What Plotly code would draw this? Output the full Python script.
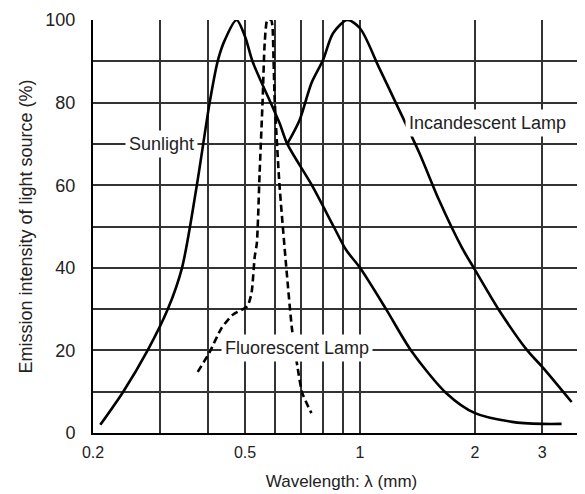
import math
import plotly.graph_objects as go

# Sunlight
sol_x = [0.209, 0.24, 0.278, 0.314, 0.342, 0.374, 0.404, 0.424, 0.442, 0.475, 0.50, 0.523,
         0.59, 0.616, 0.645, 0.748, 0.853, 0.92, 1.0, 1.17, 1.36, 1.68, 2.0, 2.5, 3.0, 3.37]
sol_y = [2, 10, 20, 30, 40, 60, 80, 90, 95, 100, 96, 90,
         79, 75, 70, 60, 50, 44.3, 40, 30, 20, 9.7, 4.8, 2.7, 2.2, 2.2]

# Incandescent lamp
inc_x = [0.645, 0.695, 0.746, 0.80, 0.85, 0.926, 1.0, 1.12, 1.24, 1.43, 1.61, 1.85,
         2.0, 2.31, 2.74, 3.0, 3.58]
inc_y = [70, 75.8, 84.7, 90.3, 96.8, 100, 98, 88.6, 80, 67.8, 56.4, 44.8,
         39.5, 29.8, 20, 16, 7.5]

# Fluorescent lamp
flu_x = [0.376, 0.404, 0.434, 0.464, 0.507, 0.52, 0.53, 0.537, 0.546, 0.556, 0.563, 0.572,
         0.585, 0.59, 0.594, 0.598, 0.615, 0.642, 0.664, 0.686, 0.706, 0.746]
flu_y = [14.8, 19.6, 25.4, 28.6, 30.7, 33.9, 42.6, 46, 63, 80.6, 94.4, 100,
         100, 98.5, 90, 80.6, 60.5, 39.5, 25, 16, 9.7, 4.8]

x_ticks = [0.2, 0.3, 0.4, 0.5, 0.6, 0.7, 0.8, 0.9, 1, 2, 3, 4]
x_labels = ["0.2", "", "", "0.5", "", "", "", "", "1", "2", "3", "4"]
y_ticks = [0, 10, 20, 30, 40, 50, 60, 70, 80, 90, 100]
y_labels = ["0", "", "20", "", "40", "", "60", "", "80", "", "100"]

fonte = "Liberation Sans, Arial, sans-serif"

fig = go.Figure()
fig.add_trace(go.Scatter(x=sol_x, y=sol_y, mode="lines", line=dict(color="black", width=2.6, shape="spline", smoothing=0.8), cliponaxis=False))
fig.add_trace(go.Scatter(x=inc_x, y=inc_y, mode="lines", line=dict(color="black", width=2.6, shape="spline", smoothing=0.8), cliponaxis=False))
fig.add_trace(go.Scatter(x=flu_x, y=flu_y, mode="lines", line=dict(color="black", width=2.6, dash="7px,4px", shape="spline", smoothing=0.6), cliponaxis=False))

rotulo = dict(showarrow=False, bgcolor="white", borderpad=3, font=dict(family=fonte, size=18, color="#222"))
fig.add_annotation(x=math.log10(0.303), y=70, text="Sunlight", **rotulo)
fig.add_annotation(x=math.log10(2.16), y=75, text="Incandescent Lamp", **rotulo)
fig.add_annotation(x=math.log10(0.684), y=20.5, text="Fluorescent Lamp", **rotulo)

fig.update_xaxes(
    type="log", range=[math.log10(0.2), math.log10(4)], automargin=False,
    tickvals=x_ticks, ticktext=x_labels,
    showgrid=True, gridcolor="#333", gridwidth=1.5,
    showline=True, linecolor="black", linewidth=2,
    ticks="outside", ticklen=4, tickcolor="rgba(0,0,0,0)",
    tickfont=dict(family=fonte, size=16, color="#222"),
    title=dict(text="Wavelength: λ (mm)", font=dict(family=fonte, size=17, color="#222"), standoff=15),
)
fig.update_yaxes(
    range=[0, 100], automargin=False, tickvals=y_ticks, ticktext=y_labels,
    showgrid=True, gridcolor="#333", gridwidth=1.5,
    showline=True, linecolor="black", linewidth=2,
    ticks="outside", ticklen=12, tickcolor="rgba(0,0,0,0)",
    tickfont=dict(family=fonte, size=18, color="#222"),
    title=dict(text="Emission intensity of light source (%)", font=dict(family=fonte, size=18, color="#222"), standoff=8),
)

# a página tem 8px de margem no body; o gráfico passa da borda direita como no original
fig.update_layout(
    width=600, height=494,
    margin=dict(l=85, r=18, t=12, b=69),
    plot_bgcolor="white", paper_bgcolor="white",
    showlegend=False,
)

fig.write_html("out.html")
